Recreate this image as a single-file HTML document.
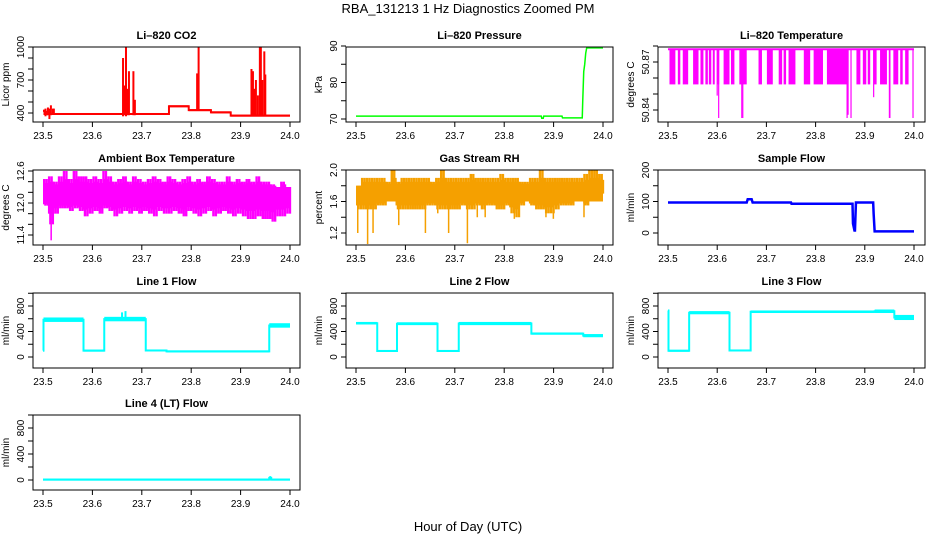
<!DOCTYPE html>
<html><head><meta charset="utf-8"><style>
html,body{margin:0;padding:0;background:#fff}
svg{display:block;font-family:"Liberation Sans",Arial,sans-serif}
</style></head><body>
<svg id="chart" width="936" height="540" viewBox="0 0 936 540" xmlns="http://www.w3.org/2000/svg">
<text x="468" y="13" font-size="13" text-anchor="middle">RBA_131213  1 Hz Diagnostics Zoomed PM</text>
<text x="468" y="531" font-size="13" text-anchor="middle">Hour of Day (UTC)</text>
</svg>
<script>
// ---- data ----
const xTicks = [23.5, 23.6, 23.7, 23.8, 23.9, 24.0];
const xTickLabels = ["23.5", "23.6", "23.7", "23.8", "23.9", "24.0"];
const co2Seg = [[23.5,23.503,420,420],[23.503,23.755,390,392],[23.755,23.795,460,462],[23.795,23.84,425,427],[23.84,23.88,405,407],[23.88,24.0,375,377]];
const co2Spk = [[23.505,370,440],[23.508,380,420],[23.51,380,450],[23.513,345,440],[23.516,380,470],[23.52,400,440],[23.522,390,440],
 [23.662,370,900],[23.665,380,650],[23.668,370,1000],[23.671,380,620],[23.674,380,780],[23.683,380,780],[23.686,380,520],
 [23.812,420,760],[23.815,420,1000],[23.922,370,800],[23.925,370,780],[23.928,370,620],[23.931,370,700],[23.935,370,560],[23.939,370,1000],[23.941,370,1000],[23.944,370,700],[23.948,370,960],[23.95,370,750]];
const presT = [23.5,23.875,23.876,23.879,23.88,23.917,23.918,23.958,23.959,23.961,23.963,23.965,23.967,23.97,24.0];
const presV = [70.8,70.8,70.2,70.2,70.8,70.8,70.3,70.3,75,83,85,88,89.5,89.5,89.5];
const ltHigh = 50.878, ltLow = 50.856;
const ltFill = [[23.503,23.515],[23.52,23.525],[23.53,23.541],[23.551,23.562],[23.566,23.572],[23.576,23.581],[23.583,23.588],[23.591,23.595],[23.6,23.604],[23.613,23.625],[23.628,23.635],[23.645,23.66],[23.684,23.691],[23.701,23.713],[23.725,23.732],[23.735,23.74],[23.745,23.759],[23.776,23.789],[23.796,23.815],[23.823,23.864],[23.883,23.891],[23.896,23.903],[23.906,23.911],[23.918,23.924],[23.931,23.945],[23.958,23.968],[23.972,23.977],[23.982,23.989]];
const ltDipT = [23.6,23.603,23.65,23.652,23.864,23.866,23.872,23.918,23.95,23.951,23.998];
const ltDipV = [50.849,50.835,50.835,50.835,50.835,50.837,50.835,50.848,50.835,50.835,50.835];
const gridT = [23.5,23.51,23.52,23.53,23.54,23.55,23.56,23.57,23.58,23.59,23.6,23.61,23.62,23.63,23.64,23.65,23.66,23.67,23.68,23.69,23.7,23.71,23.72,23.73,23.74,23.75,23.76,23.77,23.78,23.79,23.8,23.81,23.82,23.83,23.84,23.85,23.86,23.87,23.88,23.89,23.9,23.91,23.92,23.93,23.94,23.95,23.96,23.97,23.98,23.99];
const ambHi = [12.45,12.5,12.4,12.5,12.6,12.45,12.6,12.5,12.5,12.45,12.5,12.45,12.6,12.5,12.4,12.45,12.5,12.4,12.5,12.45,12.4,12.45,12.5,12.45,12.4,12.5,12.45,12.4,12.45,12.5,12.4,12.45,12.4,12.5,12.45,12.4,12.4,12.5,12.4,12.45,12.4,12.45,12.4,12.5,12.4,12.4,12.35,12.3,12.4,12.3];
const ambLo = [11.95,11.6,11.8,11.9,11.9,11.85,11.9,11.85,11.75,11.8,11.85,11.8,11.9,11.85,11.75,11.8,11.85,11.8,11.85,11.8,11.85,11.8,11.75,11.85,11.8,11.8,11.85,11.8,11.75,11.85,11.8,11.75,11.8,11.85,11.75,11.8,11.85,11.8,11.75,11.8,11.75,11.7,11.7,11.75,11.7,11.7,11.65,11.75,11.75,11.8];
const ambCoreLo = 12.0, ambCoreHi = 12.3;
const ambSpkT = [23.515], ambSpkV = [11.3];
const rhHi = [1.8,1.9,1.9,1.9,1.9,1.9,1.85,2.0,1.85,1.9,1.9,1.9,1.9,1.9,1.9,1.85,1.9,2.0,1.9,1.9,1.9,1.9,1.9,1.95,1.9,1.9,1.9,1.9,1.9,1.95,1.9,1.9,1.9,1.85,1.85,1.9,1.9,2.0,1.9,1.9,1.9,1.9,1.9,1.9,1.9,1.9,1.95,2.0,2.0,1.95];
const rhLo = [1.5,1.5,1.5,1.5,1.55,1.55,1.6,1.6,1.5,1.5,1.5,1.5,1.5,1.5,1.55,1.55,1.5,1.5,1.5,1.5,1.5,1.55,1.5,1.5,1.55,1.5,1.55,1.55,1.5,1.5,1.55,1.45,1.4,1.55,1.6,1.55,1.5,1.5,1.45,1.45,1.5,1.55,1.55,1.55,1.6,1.6,1.55,1.65,1.65,1.7];
const rhCoreLo = 1.6, rhCoreHi = 1.8;
const rhSpkT = [23.502,23.522,23.533,23.585,23.639,23.664,23.686,23.724,23.744,23.76,23.819,23.883,23.898,23.96];
const rhSpkV = [1.2,1.06,1.2,1.3,1.2,1.45,1.2,1.07,1.4,1.4,1.38,1.4,1.38,1.4];
const sfT = [23.5,23.66,23.662,23.67,23.672,23.75,23.751,23.875,23.876,23.879,23.88,23.882,23.917,23.918,23.92,24.0];
const sfV = [97,97,107,107,97,97,93,93,30,8,8,97,97,60,5,5];
const l1Seg = [[23.5,23.501,100,100],[23.501,23.582,550,620],[23.582,23.624,95,105],[23.624,23.708,560,630],[23.708,23.75,95,110],[23.75,23.958,80,95],[23.958,24.0,460,530]];
const l1Spk = [[23.66,620,700],[23.667,620,720]];
const l2Seg = [[23.5,23.543,510,550],[23.543,23.583,90,100],[23.583,23.665,500,545],[23.665,23.708,90,100],[23.708,23.855,500,550],[23.855,23.96,350,385],[23.96,24.0,310,360]];
const l2Spk = [];
const l3Seg = [[23.5,23.501,730,730],[23.501,23.543,95,100],[23.543,23.625,670,720],[23.625,23.668,95,110],[23.668,23.92,690,730],[23.92,23.96,690,745],[23.96,24.0,580,660]];
const l3Spk = [];
const l4Seg = [[23.5,23.958,5,8],[23.958,23.962,5,60],[23.962,24.0,5,8]];
const l4Spk = [];

const NS = "http://www.w3.org/2000/svg";
const svg = document.getElementById('chart');
const colLeft = [33, 346, 658], colW = 267;
const colX0 = [43, 356, 668], colX1 = [290, 603, 914];
const rowTop = [47, 170, 293, 415], boxH = 75;
function mk(tag, attrs, parent) {
  const e = document.createElementNS(NS, tag);
  for (const k in attrs) e.setAttribute(k, attrs[k]);
  (parent || svg).appendChild(e);
  return e;
}
function panel(name, col, row, title, ylab, ref, ticks, labels) {
  const g = mk('g', {});
  
  
  const L = colLeft[col], T = rowTop[row];
  const sx = t => colX0[col] + (t - 23.5) / 0.5 * (colX1[col] - colX0[col]);
  const sy = v => T + ref[1] + (v - ref[0]) / (ref[2] - ref[0]) * (ref[3] - ref[1]);
  const clip = 'clip-' + name;
  const cp = mk('clipPath', {id: clip}, g);
  mk('rect', {x: L, y: T, width: colW, height: boxH}, cp);
  const data = mk('g', {'clip-path': 'url(#' + clip + ')'}, g);
  
  
  const box = mk('rect', {x: L, y: T, width: colW, height: boxH, fill: 'none', stroke: '#000', 'stroke-width': 1}, g);
  
  
  const tt = mk('text', {x: L + colW / 2, y: T - 8, 'font-size': 11, 'font-weight': 'bold', 'text-anchor': 'middle'}, g);
  tt.textContent = title;
  
  
  xTicks.forEach((t, i) => {
    mk('line', {x1: sx(t), x2: sx(t), y1: T + boxH, y2: T + boxH + 5, stroke: '#000'}, g);
    const lb = mk('text', {x: sx(t), y: T + boxH + 17, 'font-size': 10, 'text-anchor': 'middle'}, g);
    lb.textContent = xTickLabels[i];
    
    
  });
  ticks.forEach(v => {
    mk('line', {x1: L - 5, x2: L, y1: sy(v), y2: sy(v), stroke: '#000'}, g);
  });
  labels.forEach(v => {
    const x = L - 9, y = sy(v[0]);
    const lb = mk('text', {x: x, y: y, 'font-size': 10, 'text-anchor': 'middle', transform: 'rotate(-90 ' + x + ' ' + y + ')'}, g);
    lb.textContent = v[1];
    
    
  });
  const yx = L - 24, yy = T + boxH / 2;
  const yl = mk('text', {x: yx, y: yy, 'font-size': 10, 'text-anchor': 'middle', transform: 'rotate(-90 ' + yx + ' ' + yy + ')'}, g);
  yl.textContent = ylab;
  
  
  return {g: data, sx, sy};
}
function bands(p, seg, spk, color) {
  let pts = [];
  seg.forEach(s => {
    const y1 = p.sy(s[3]), y2 = p.sy(s[2]);
    const h = Math.max(2, y2 - y1);
    const r = mk('rect', {x: p.sx(s[0]), y: y1 - (h - (y2 - y1)) / 2, width: Math.max(1, p.sx(s[1]) - p.sx(s[0])), height: h, fill: color}, p.g);
    
    
    pts.push(p.sx(s[0]) + ',' + p.sy((s[2] + s[3]) / 2), p.sx(s[1]) + ',' + p.sy((s[2] + s[3]) / 2));
  });
  mk('polyline', {points: pts.join(' '), fill: 'none', stroke: color, 'stroke-width': 2}, p.g);
  spk.forEach(s => {
    const l = mk('line', {x1: p.sx(s[0]), x2: p.sx(s[0]), y1: p.sy(s[1]), y2: p.sy(s[2]), stroke: color, 'stroke-width': 2}, p.g);
    
    
  });
}
function poly(p, T, V, color, w) {
  const l = mk('polyline', {points: T.map((t, i) => p.sx(t) + ',' + p.sy(V[i])).join(' '), fill: 'none', stroke: color, 'stroke-width': w}, p.g);
  
  
}
function noisy(p, hi, lo, cLo, cHi, sT, sV, fill) {
  const step = gridT[1] - gridT[0];
  gridT.forEach((t, i) => {
    for (let k = 0; k < 4; k++) {
      const tt = t + step * k / 4;
      const h = k % 2 === 0 ? hi[i] : (hi[i] + cHi) / 2;
      const l = k % 2 === 1 ? lo[i] : (lo[i] + cLo) / 2;
      const r = mk('rect', {x: p.sx(tt), y: p.sy(h), width: 2.4, height: p.sy(l) - p.sy(h), fill: fill}, p.g);
      
      
    }
  });
  const c = mk('rect', {x: p.sx(gridT[0]), y: p.sy(cHi), width: p.sx(24) - p.sx(gridT[0]), height: p.sy(cLo) - p.sy(cHi), fill: fill}, p.g);
  
  
  sT.forEach((t, i) => {
    const r = mk('rect', {x: p.sx(t), y: p.sy(cLo), width: 1.5, height: p.sy(sV[i]) - p.sy(cLo), fill: fill}, p.g);
    
    
  });
}

let p = panel('co2', 0, 0, 'Li\u2013820 CO2', 'Licor ppm', [400, 66, 1000, 0], [400, 500, 600, 700, 800, 900, 1000], [[400, '400'], [700, '700'], [1000, '1000']]);
bands(p, co2Seg, co2Spk, '#ff0000');
p = panel('pressure', 1, 0, 'Li\u2013820 Pressure', 'kPa', [70, 72, 90, -1], [70, 75, 80, 85, 90], [[70, '70'], [80, '80'], [90, '90']]);
poly(p, presT, presV, '#00ff00', 1.5);
p = panel('li820-temp', 2, 0, 'Li\u2013820 Temperature', 'degrees C', [50.87, 15, 50.88, -1], [50.84, 50.85, 50.86, 50.87, 50.88], [[50.84, '50.84'], [50.87, '50.87']]);
mk('line', {x1: p.sx(23.5), x2: p.sx(24), y1: p.sy(ltHigh), y2: p.sy(ltHigh), stroke: '#ff00ff', 'stroke-width': 2}, p.g);
ltFill.forEach(f => {
  const r = mk('rect', {x: p.sx(f[0]), y: p.sy(ltHigh), width: p.sx(f[1]) - p.sx(f[0]), height: p.sy(ltLow) - p.sy(ltHigh), fill: '#ff00ff'}, p.g);
  
  
});
ltDipT.forEach((t, i) => {
  const l = mk('line', {x1: p.sx(t), x2: p.sx(t), y1: p.sy(ltHigh), y2: p.sy(ltDipV[i]), stroke: '#ff00ff', 'stroke-width': 1.2}, p.g);
  
  
});
p = panel('ambient-temp', 0, 1, 'Ambient Box Temperature', 'degrees C', [12.0, 33, 12.6, 1], [11.4, 11.6, 11.8, 12.0, 12.2, 12.4, 12.6], [[11.4, '11.4'], [12.0, '12.0'], [12.6, '12.6']]);
noisy(p, ambHi, ambLo, ambCoreLo, ambCoreHi, ambSpkT, ambSpkV, '#ff00ff');
p = panel('gas-rh', 1, 1, 'Gas Stream RH', 'percent', [1.2, 63, 2.0, 0], [1.2, 1.4, 1.6, 1.8, 2.0], [[1.2, '1.2'], [1.6, '1.6'], [2.0, '2.0']]);
noisy(p, rhHi, rhLo, rhCoreLo, rhCoreHi, rhSpkT, rhSpkV, '#f5a000');
p = panel('sample-flow', 2, 1, 'Sample Flow', 'ml/min', [0, 63, 200, 0], [0, 50, 100, 150, 200], [[0, '0'], [100, '100'], [200, '200']]);
poly(p, sfT, sfV, '#0000ff', 2.5);
const fT = [0, 200, 400, 600, 800, 1000], fL = [[0, '0'], [400, '400'], [800, '800']];
p = panel('line1-flow', 0, 2, 'Line 1 Flow', 'ml/min', [0, 64, 800, 13], fT, fL);
bands(p, l1Seg, l1Spk, '#00ffff');
p = panel('line2-flow', 1, 2, 'Line 2 Flow', 'ml/min', [0, 64, 800, 13], fT, fL);
bands(p, l2Seg, l2Spk, '#00ffff');
p = panel('line3-flow', 2, 2, 'Line 3 Flow', 'ml/min', [0, 64, 800, 13], fT, fL);
bands(p, l3Seg, l3Spk, '#00ffff');
p = panel('line4-flow', 0, 3, 'Line 4 (LT) Flow', 'ml/min', [0, 65, 800, 13], fT, fL);
bands(p, l4Seg, l4Spk, '#00ffff');
</script>
</body></html>
